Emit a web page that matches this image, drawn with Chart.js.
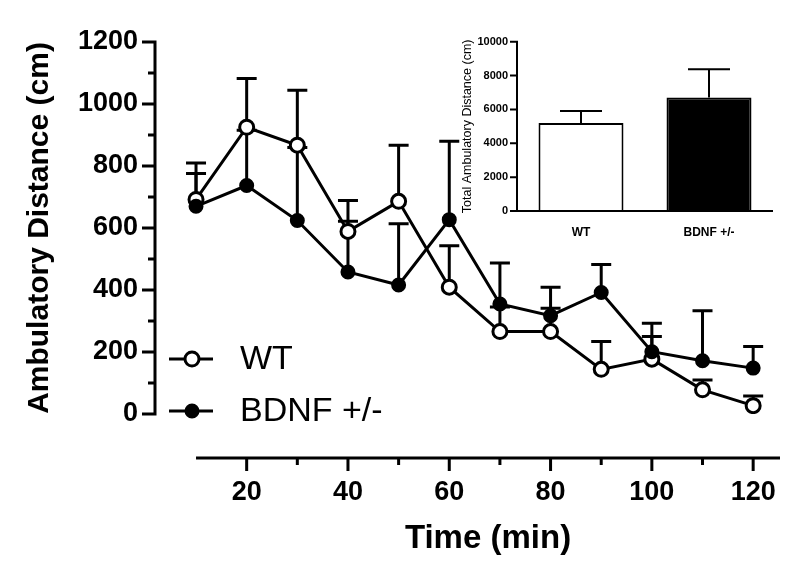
<!DOCTYPE html>
<html>
<head>
<meta charset="utf-8">
<script src="https://cdn.jsdelivr.net/npm/chart.js@4.4.1/dist/chart.umd.min.js"></script>
<style>
  html, body { margin: 0; padding: 0; background: #fff; }
  #wrap { position: relative; width: 800px; height: 576px; }
  #main { position: absolute; left: 0; top: 0; }
  #inset { position: absolute; left: 440px; top: 20px; }
</style>
</head>
<body>
<div id="wrap">
  <canvas id="main" width="800" height="576"></canvas>
  <canvas id="inset" width="345" height="230"></canvas>
</div>
<script>
// time course (min) and mean / mean+SEM per genotype
const times = [10, 20, 30, 40, 50, 60, 70, 80, 90, 100, 110, 120];
const wtMean = [692, 925, 867, 589, 686, 409, 266, 266, 144, 177, 78, 27];
const wtUpper = [810, 1082, 1044, 689, 867, 543, 345, 341, 234, 250, 110, 58];
const bdnfMean = [670, 737, 624, 458, 416, 627, 355, 317, 392, 201, 172, 148];
const bdnfUpper = [776, 915, 860, 622, 614, 880, 487, 409, 482, 293, 333, 218];

const xTicks = [20, 40, 60, 80, 100, 120];
const xMinor = [30, 50, 70, 90, 110];
const yTicks = [0, 200, 400, 600, 800, 1000, 1200];
const yMinor = [100, 300, 500, 700, 900, 1100];
const xTitle = 'Time (min)';

// inset: total distance
const groups = ['WT', 'BDNF +/-'];
const totals = [5200, 6700];
const totalsUpper = [5900, 8380];
const insetTicks = [0, 2000, 4000, 6000, 8000, 10000];

const FONT = "'Liberation Sans', Arial, Helvetica, sans-serif";
const X_GAP = 44; // offset of the detached x axis below the plot
const plain = v => String(v);

const mainDecor = {
  id: 'mainDecor',
  beforeDatasetsDraw(chart) {
    const { ctx, scales: { x, y } } = chart;
    ctx.save();
    ctx.strokeStyle = '#000';
    ctx.lineWidth = 3;
    chart.data.datasets.forEach(ds => {
      ds.data.forEach((p, i) => {
        const px = x.getPixelForValue(p.x);
        const y0 = y.getPixelForValue(p.y);
        const y1 = y.getPixelForValue(ds.upper[i]);
        ctx.beginPath();
        ctx.moveTo(px, y0); ctx.lineTo(px, y1);
        ctx.moveTo(px - 10, y1); ctx.lineTo(px + 10, y1);
        ctx.stroke();
      });
    });
    ctx.restore();
  },
  afterDraw(chart) {
    const { ctx, chartArea, scales: { x, y } } = chart;
    ctx.save();
    ctx.strokeStyle = '#000';
    ctx.lineWidth = 3;

    // y axis
    const ax = chartArea.left;
    ctx.beginPath();
    ctx.moveTo(ax, y.getPixelForValue(0) + 1.5);
    ctx.lineTo(ax, y.getPixelForValue(1200) - 1.5);
    yTicks.forEach(v => { const py = y.getPixelForValue(v); ctx.moveTo(ax, py); ctx.lineTo(ax - 13, py); });
    yMinor.forEach(v => { const py = y.getPixelForValue(v); ctx.moveTo(ax, py); ctx.lineTo(ax - 7, py); });
    ctx.stroke();

    // x axis, detached, with its title centred under it
    const ay = chartArea.bottom + X_GAP;
    const x0 = x.getPixelForValue(10);
    ctx.beginPath();
    ctx.moveTo(x0, ay);
    ctx.lineTo(chartArea.right, ay);
    xTicks.forEach(v => { const px = x.getPixelForValue(v); ctx.moveTo(px, ay); ctx.lineTo(px, ay + 13); });
    xMinor.forEach(v => { const px = x.getPixelForValue(v); ctx.moveTo(px, ay); ctx.lineTo(px, ay + 7); });
    ctx.stroke();
    ctx.fillStyle = '#000';
    ctx.font = 'bold 33px ' + FONT;
    ctx.textAlign = 'center';
    ctx.textBaseline = 'middle';
    ctx.fillText(xTitle, (x0 + chartArea.right) / 2, ay + 81);

    // legend
    const rows = [chart.data.datasets[1], chart.data.datasets[0]];
    rows.forEach((ds, i) => {
      const ly = 359 + i * 52;
      ctx.beginPath();
      ctx.lineWidth = 3;
      ctx.moveTo(169, ly); ctx.lineTo(213, ly);
      ctx.stroke();
      ctx.beginPath();
      ctx.arc(192, ly, ds.pointRadius, 0, Math.PI * 2);
      ctx.fillStyle = ds.pointBackgroundColor;
      ctx.fill();
      ctx.lineWidth = ds.pointBorderWidth;
      ctx.stroke();
      ctx.fillStyle = '#000';
      ctx.font = '34px ' + FONT;
      ctx.textBaseline = 'middle';
      ctx.textAlign = 'left';
      ctx.fillText(ds.label, 240, ly + 1);
    });
    ctx.restore();
  }
};

new Chart(document.getElementById('main'), {
  type: 'line',
  data: {
    datasets: [
      {
        label: 'BDNF +/-',
        data: times.map((t, i) => ({ x: t, y: bdnfMean[i] })),
        upper: bdnfUpper,
        borderColor: '#000',
        borderWidth: 3,
        pointRadius: 6,
        pointBorderWidth: 3,
        pointBackgroundColor: '#000',
        pointBorderColor: '#000',
        order: 1
      },
      {
        label: 'WT',
        data: times.map((t, i) => ({ x: t, y: wtMean[i] })),
        upper: wtUpper,
        borderColor: '#000',
        borderWidth: 3,
        pointRadius: 7,
        pointBorderWidth: 3,
        pointBackgroundColor: '#fff',
        pointBorderColor: '#000',
        order: 2
      }
    ]
  },
  options: {
    responsive: false,
    animation: false,
    devicePixelRatio: 1,
    layout: { padding: { left: 0, top: 42, right: 20, bottom: 0 } },
    plugins: { legend: { display: false }, tooltip: { enabled: false } },
    scales: {
      x: {
        type: 'linear',
        min: 1.9,
        max: 125.3,
        afterBuildTicks: s => { s.ticks = xTicks.map(v => ({ value: v })); },
        afterFit: s => { s.height = 576 - 414; },
        grid: { display: false, drawTicks: true, tickLength: 62 },
        border: { display: false },
        ticks: { padding: 0, color: '#000', callback: plain, font: { family: FONT, size: 27, weight: 'bold' } }
      },
      y: {
        min: 0,
        max: 1200,
        afterBuildTicks: s => { s.ticks = yTicks.map(v => ({ value: v })); },
        afterFit: s => { s.width = 155; },
        grid: { display: false, drawTicks: true, tickLength: 17 },
        border: { display: false },
        ticks: { padding: 0, color: '#000', callback: plain, font: { family: FONT, size: 27, weight: 'bold' } },
        title: {
          display: true, text: 'Ambulatory Distance (cm)', color: '#000',
          font: { family: FONT, size: 30, weight: 'bold' },
          padding: { top: 22, bottom: 0 }
        }
      }
    }
  },
  plugins: [mainDecor]
});

const insetDecor = {
  id: 'insetDecor',
  afterDatasetsDraw(chart) {
    const { ctx, chartArea, scales: { x, y } } = chart;
    ctx.save();
    ctx.strokeStyle = '#000';
    ctx.lineWidth = 2;
    // error bars (upper)
    totals.forEach((v, i) => {
      const px = x.getPixelForValue(i);
      const y0 = y.getPixelForValue(v);
      const y1 = y.getPixelForValue(totalsUpper[i]);
      ctx.beginPath();
      ctx.moveTo(px, y0); ctx.lineTo(px, y1);
      ctx.moveTo(px - 21, y1); ctx.lineTo(px + 21, y1);
      ctx.stroke();
    });
    // axes
    const ax = chartArea.left, ay = y.getPixelForValue(0);
    ctx.beginPath();
    ctx.moveTo(ax, ay + 1);
    ctx.lineTo(ax, y.getPixelForValue(10000) - 1);
    insetTicks.forEach(v => { const py = y.getPixelForValue(v); ctx.moveTo(ax, py); ctx.lineTo(ax - 7, py); });
    ctx.moveTo(ax, ay);
    ctx.lineTo(chartArea.right, ay);
    ctx.stroke();
    ctx.restore();
  }
};

new Chart(document.getElementById('inset'), {
  type: 'bar',
  data: {
    labels: groups,
    datasets: [{
      data: totals,
      backgroundColor: ['#fff', '#000'],
      borderColor: '#000',
      borderWidth: 2,
      barPercentage: 0.664,
      categoryPercentage: 1
    }]
  },
  options: {
    responsive: false,
    animation: false,
    devicePixelRatio: 1,
    layout: { padding: { left: 0, top: 21.7, right: 12, bottom: 0 } },
    plugins: { legend: { display: false }, tooltip: { enabled: false } },
    scales: {
      x: {
        afterFit: s => { s.height = 39; },
        grid: { display: false, drawTicks: true, tickLength: 14 },
        border: { display: false },
        ticks: { padding: 0, color: '#000', font: { family: FONT, size: 12, weight: 'bold' } }
      },
      y: {
        min: 0,
        max: 10000,
        afterBuildTicks: s => { s.ticks = insetTicks.map(v => ({ value: v })); },
        afterFit: s => { s.width = 77; },
        grid: { display: false, drawTicks: true, tickLength: 9 },
        border: { display: false },
        ticks: { padding: 0, color: '#000', callback: plain, font: { family: FONT, size: 11, weight: 'bold' } },
        title: {
          display: true, text: 'Total Ambulatory Distance (cm)', color: '#000',
          font: { family: FONT, size: 12.5 },
          padding: { top: 20.5, bottom: 0 }
        }
      }
    }
  },
  plugins: [insetDecor]
});
</script>
</body>
</html>
